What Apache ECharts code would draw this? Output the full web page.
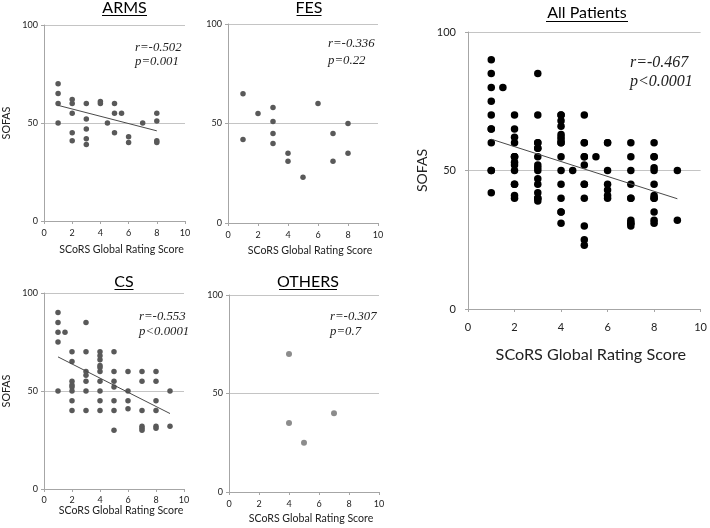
<!DOCTYPE html>
<html><head><meta charset="utf-8">
<script src="https://cdn.jsdelivr.net/npm/echarts@6/dist/echarts.min.js"></script>
<style>html,body{margin:0;padding:0;background:#fff}#c{width:710px;height:528px}</style>
</head><body><div id="c"></div>
<script>
// ---- data ----
const panelTitles = ['ARMS', 'FES', 'CS', 'OTHERS', 'All Patients'];
const xAxisName = 'SCoRS Global Rating Score';
const yAxisName = 'SOFAS';
const xTickValues = [0, 2, 4, 6, 8, 10];
const yTickValues = [0, 50, 100];

const armsX = [1,1,1,1, 2,2,2,2,2, 3,3,3,3,3, 4,4, 4.5, 5,5,5, 5.5, 6,6, 7, 8,8,8,8];
const armsY = [70,65,60,50, 62,60,55,45,41, 60,52,47,42,39, 61,60, 50, 60,55,45, 55, 43,40, 50, 55,51,41,40];

const fesX = [1,1, 2, 3,3,3,3, 4,4, 5, 6, 7,7, 8,8];
const fesY = [65,42, 55, 58,51,45,40, 35,31, 23, 60, 45,31, 50,35];

const csX = [1,1,1,1,1, 1.5, 2,2,2,2,2,2,2,2, 3,3,3,3,3,3,3, 4,4,4,4,4,4,4,4,4,4, 5,5,5,5,5,5,5, 6,6,6,6, 7,7,7,7,7,7, 8,8,8,8,8,8, 9,9];
const csY = [90,85,80,75,50, 80, 70,65,55,53,52,50,45,40, 85,70,60,58,55,50,40, 70,68,66,63,62,60,55,50,45,40, 70,60,55,52,45,40,30, 60,50,45,41, 60,55,40,32,31,30, 60,55,45,40,32,31, 50,32];

const othersX = [4, 4, 5, 7];
const othersY = [70, 35, 25, 40];

// All patients = every point of the four groups
const allX = [].concat(armsX, fesX, csX, othersX);
const allY = [].concat(armsY, fesY, csY, othersY);

// regression lines (end points)
const armsTrendX = [1, 8];   const armsTrendY = [59, 46];
const csTrendX = [1, 9];     const csTrendY = [67.4, 38.5];
const allTrendX = [1, 9];    const allTrendY = [61.3, 39.8];

const statsText = [
  ['r=-0.502', 'p=0.001'],
  ['r=-0.336', 'p=0.22'],
  ['r=-0.553', 'p<0.0001'],
  ['r=-0.307', 'p=0.7'],
  ['r=-0.467', 'p<0.0001']
];

// ---- chart ----
const zip = (xs, ys) => xs.map((x, i) => [x, ys[i]]);
const FONT = 'Lato';
const grids = [
  {left: 42, top: 25, width: 143, height: 196},
  {left: 228, top: 24, width: 150, height: 199},
  {left: 42, top: 293, width: 142, height: 196},
  {left: 229, top: 295, width: 150, height: 197},
  {left: 468, top: 32, width: 235, height: 277}
];
const big = [false, false, false, false, true];
const showYName = [true, false, true, false, true];
const xNameGap = [23.5, 22.5, 15.5, 21.5, 37.5];
const xLabelMargin = [8, 8, 6.5, 7.5, 12.5];

const axisColor = '#a6a6a6';
const xAxes = grids.map((g, i) => ({
  gridIndex: i, type: 'value', min: xTickValues[0], max: xTickValues[xTickValues.length - 1],
  interval: xTickValues[1] - xTickValues[0],
  name: xAxisName, nameLocation: 'middle', nameGap: xNameGap[i],
  nameTextStyle: {fontFamily: FONT, fontSize: big[i] ? 16.2 : 10.6, color: '#222',
    padding: [0, 0, 0, big[i] ? 13 : 14]},
  axisLine: {show: true, onZero: false, lineStyle: {color: axisColor, width: 1}},
  axisTick: {show: true, length: 3, lineStyle: {color: axisColor}},
  axisLabel: {fontFamily: FONT, fontSize: big[i] ? 11 : 9, color: '#222', margin: xLabelMargin[i]},
  splitLine: {show: false}
}));
const yAxes = grids.map((g, i) => ({
  gridIndex: i, type: 'value', min: yTickValues[0], max: yTickValues[yTickValues.length - 1],
  interval: yTickValues[1] - yTickValues[0],
  name: showYName[i] ? yAxisName : '', nameLocation: 'middle', nameGap: big[i] ? 39 : 32,
  nameTextStyle: {fontFamily: FONT, fontSize: big[i] ? 14 : 10.7, color: '#222'},
  axisLine: {show: true, lineStyle: {color: axisColor, width: 1}},
  axisTick: {show: true, length: 3, lineStyle: {color: axisColor}},
  axisLabel: {fontFamily: FONT, fontSize: big[i] ? 11 : 9, color: '#222', margin: big[i] ? 12 : 6},
  splitLine: {show: true, lineStyle: {color: '#c4c4c4', width: 1}}
}));

function scatter(i, xs, ys, color, size) {
  return {type: 'scatter', xAxisIndex: i, yAxisIndex: i, data: zip(xs, ys),
    symbolSize: size, itemStyle: {color: color, opacity: 1}, silent: true, z: 3};
}
function trend(i, xs, ys) {
  return {type: 'line', xAxisIndex: i, yAxisIndex: i, data: zip(xs, ys),
    symbol: 'none', lineStyle: {color: '#4a4a4a', width: 1}, silent: true, z: 4};
}
const series = [
  scatter(0, armsX, armsY, '#595959', 5.5),
  scatter(1, fesX, fesY, '#595959', 5.5),
  scatter(2, csX, csY, '#595959', 5.5),
  scatter(3, othersX, othersY, '#8c8c8c', 6),
  scatter(4, allX, allY, '#000000', 7.5),
  trend(0, armsTrendX, armsTrendY),
  trend(2, csTrendX, csTrendY),
  trend(4, allTrendX, allTrendY)
];

// titles (underlined) and statistics annotations
const titlePos = [[124.5, 8, 45], [309, 8, 25], [124, 282, 19], [308, 282, 58], [587, 13, 82]];
const underlineY = [15.5, 15.5, 289.5, 289.5, 21.5];
const statPos = [[135, 48, 62], [328, 44, 61], [139, 317, 332], [330, 317, 332], [630, 63, 82]];
const graphic = [];
titlePos.forEach((p, i) => {
  graphic.push({type: 'text', x: p[0], y: p[1], style: {text: panelTitles[i], fontFamily: FONT,
    fontSize: 16, fill: '#000', align: 'center', verticalAlign: 'middle'}});
  graphic.push({type: 'line', shape: {x1: p[0] - p[2] / 2, y1: underlineY[i], x2: p[0] + p[2] / 2, y2: underlineY[i]},
    style: {stroke: '#000', lineWidth: 1}});
});
statPos.forEach((p, i) => {
  const fs = i === 4 ? 16 : 12.8;
  graphic.push({type: 'text', x: p[0], y: p[1], style: {text: statsText[i][0], fontFamily: 'Liberation Serif',
    fontStyle: 'italic', fontSize: fs, fill: '#222', align: 'left', verticalAlign: 'middle'}});
  graphic.push({type: 'text', x: p[0], y: p[2], style: {text: statsText[i][1], fontFamily: 'Liberation Serif',
    fontStyle: 'italic', fontSize: fs, fill: '#222', align: 'left', verticalAlign: 'middle'}});
});

const chart = echarts.init(document.getElementById('c'), null, {renderer: 'canvas'});
chart.setOption({
  animation: false,
  backgroundColor: '#ffffff',
  grid: grids.map(g => Object.assign({containLabel: false}, g)),
  xAxis: xAxes,
  yAxis: yAxes,
  series: series,
  graphic: graphic
});
</script>
</body></html>
